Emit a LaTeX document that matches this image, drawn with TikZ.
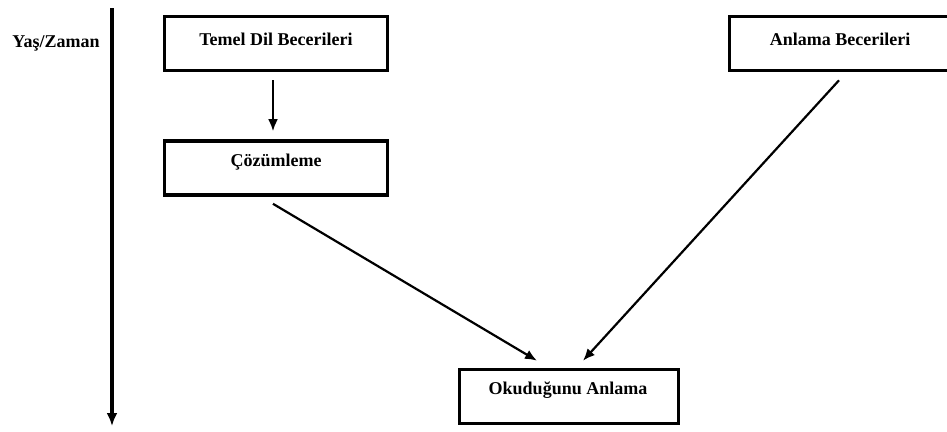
\documentclass[tikz,border=0pt]{standalone}
\usepackage{fontspec}
\setmainfont{Liberation Serif}
\usetikzlibrary{arrows.meta}
\tikzset{
  box/.style={draw=black, line width=3.6pt, rectangle, minimum width=223pt, minimum height=54pt, inner sep=0pt},
  lbl/.style={font=\fontsize{18}{20}\selectfont\bfseries, inner sep=0pt},
  arr/.style={draw=black, line width=2.2pt, -{Latex[length=12pt,width=10pt]}},
  timearr/.style={draw=black, line width=3.4pt, -{Latex[length=13pt,width=11pt]}}
}
\begin{document}
\begin{tikzpicture}[x=1pt,y=-1pt]
\useasboundingbox (0,0) rectangle (947,431);
\clip (0,0) rectangle (947,431);
\fill[white] (0,0) rectangle (947,431);
% nodes
\node[box] (temel) at (276,43.5) {};
\node[lbl] at ([yshift=4pt]temel.center) {Temel Dil Becerileri};
\node[box] (coz) at (276,168) {};
\node[lbl] at ([yshift=6pt]coz.center) {Çözümleme};
\node[box] (anl) at (841,43.5) {};
\node[lbl] at ([xshift=-1pt,yshift=4pt]anl.center) {Anlama Becerileri};
\node[box, minimum width=219pt] (oku) at (569,396.5) {};
\node[lbl] at ([xshift=-1pt,yshift=6pt]oku.center) {Okuduğunu Anlama};
\node[lbl] (yas) at (56,43) {Yaş/Zaman};
% time axis
\coordinate (ttop) at (112,8);
\coordinate (tbot) at (112,426);
\draw[timearr] (ttop) -- (tbot);
% connectors
\draw[arr] ([xshift=-3pt,yshift=-8pt]temel.south) -- ([xshift=-3pt,yshift=8pt]coz.north);
\draw[arr] ([xshift=-3pt,yshift=-7pt]coz.south) -- ([xshift=-32pt,yshift=7pt]oku.north);
\draw[arr] ([xshift=-2pt,yshift=-8pt]anl.south) -- ([xshift=14pt,yshift=7pt]oku.north);
\end{tikzpicture}
\end{document}
